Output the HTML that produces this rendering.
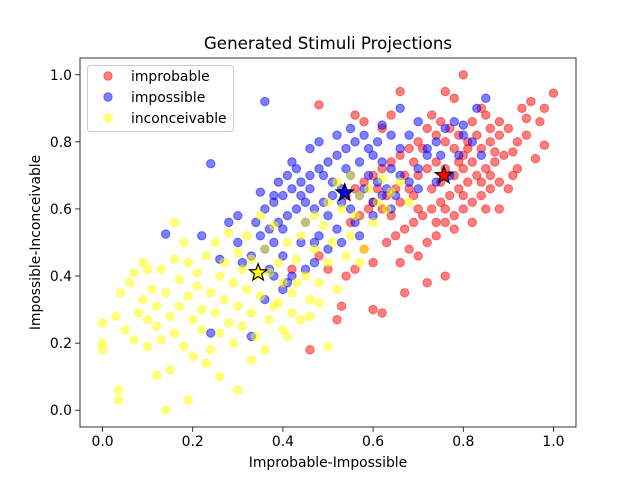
<!DOCTYPE html>
<html><head><meta charset="utf-8"><style>
body{margin:0;background:#fff;}
svg{display:block;font-family:"DejaVu Sans","Liberation Sans",sans-serif;}
</style></head><body>
<svg id="chart" width="640" height="480" viewBox="0 0 640 480">
<rect x="0" y="0" width="640" height="480" fill="#fff"/>
<text x="328" y="49" text-anchor="middle" font-size="16.7" fill="#000">Generated Stimuli Projections</text>
<g id="plot"></g>
<g id="axes"></g>
<text x="328" y="467" text-anchor="middle" font-size="13.9">Improbable-Impossible</text>
<text x="0" y="0" transform="translate(40,242.5) rotate(-90)" text-anchor="middle" font-size="13.9">Impossible-Inconceivable</text>
<g id="legend"></g>
</svg>
<script>
const xTicks=[0.0,0.2,0.4,0.6,0.8,1.0];
const yTicks=[0.0,0.2,0.4,0.6,0.8,1.0];
const seriesNames=["improbable","impossible","inconceivable"];
const seriesColors=["#ff0000","#0000ff","#ffff00"];
const redPts=[[0.80,1.00],[1.00,0.945],[0.48,0.91],[0.46,0.18],[0.76,0.40],[0.60,0.30],[0.62,0.29],[0.52,0.27],[0.53,0.31],[0.67,0.35],[0.72,0.38],[0.94,0.87],[0.93,0.90],[0.95,0.92],[0.91,0.70],[0.96,0.75],[0.98,0.79],[0.66,0.95],[0.76,0.95],[0.78,0.93],[0.84,0.90],[0.85,0.88],[0.82,0.86],[0.86,0.84],[0.88,0.82],[0.90,0.84],[0.92,0.80],[0.94,0.82],[0.89,0.76],[0.87,0.74],[0.85,0.72],[0.83,0.70],[0.81,0.68],[0.79,0.66],[0.77,0.64],[0.75,0.62],[0.73,0.60],[0.71,0.58],[0.69,0.56],[0.67,0.54],[0.65,0.52],[0.63,0.50],[0.68,0.48],[0.70,0.46],[0.72,0.50],[0.74,0.52],[0.76,0.56],[0.78,0.58],[0.80,0.60],[0.82,0.62],[0.84,0.64],[0.86,0.66],[0.88,0.68],[0.80,0.76],[0.78,0.78],[0.76,0.80],[0.74,0.82],[0.72,0.84],[0.70,0.80],[0.68,0.78],[0.66,0.76],[0.64,0.74],[0.62,0.72],[0.60,0.70],[0.58,0.68],[0.56,0.66],[0.54,0.64],[0.60,0.62],[0.62,0.60],[0.64,0.58],[0.66,0.62],[0.68,0.66],[0.70,0.70],[0.72,0.72],[0.74,0.74],[0.76,0.72],[0.78,0.70],[0.80,0.72],[0.82,0.74],[0.84,0.78],[0.86,0.80],[0.88,0.86],[0.83,0.82],[0.81,0.80],[0.79,0.82],[0.77,0.84],[0.75,0.86],[0.73,0.88],[0.71,0.78],[0.69,0.74],[0.67,0.70],[0.65,0.66],[0.63,0.64],[0.61,0.66],[0.59,0.60],[0.57,0.58],[0.55,0.56],[0.58,0.48],[0.60,0.44],[0.56,0.42],[0.54,0.40],[0.50,0.42],[0.48,0.46],[0.64,0.88],[0.62,0.84],[0.58,0.86],[0.56,0.88],[0.90,0.66],[0.92,0.72],[0.97,0.86],[0.98,0.90],[0.88,0.60],[0.85,0.60],[0.82,0.56],[0.78,0.54],[0.74,0.56],[0.70,0.60],[0.69,0.64],[0.73,0.66],[0.75,0.68],[0.79,0.74],[0.81,0.78],[0.86,0.70],[0.84,0.68],[0.87,0.77],[0.91,0.77],[0.66,0.44],[0.42,0.42],[0.76,0.60],[0.80,0.64]];
const bluePts=[[0.36,0.92],[0.24,0.735],[0.14,0.525],[0.24,0.23],[0.33,0.22],[0.36,0.33],[0.85,0.93],[0.83,0.90],[0.80,0.85],[0.66,0.90],[0.62,0.85],[0.40,0.36],[0.42,0.40],[0.22,0.52],[0.30,0.50],[0.34,0.56],[0.36,0.60],[0.38,0.62],[0.40,0.64],[0.42,0.66],[0.44,0.68],[0.46,0.70],[0.48,0.72],[0.50,0.74],[0.52,0.76],[0.54,0.78],[0.56,0.80],[0.58,0.82],[0.60,0.76],[0.62,0.74],[0.64,0.72],[0.66,0.70],[0.68,0.68],[0.70,0.72],[0.72,0.76],[0.74,0.80],[0.76,0.84],[0.78,0.86],[0.80,0.82],[0.82,0.80],[0.84,0.76],[0.79,0.76],[0.70,0.66],[0.65,0.64],[0.60,0.62],[0.55,0.60],[0.50,0.58],[0.45,0.56],[0.40,0.54],[0.38,0.50],[0.36,0.48],[0.40,0.46],[0.44,0.50],[0.48,0.52],[0.52,0.54],[0.56,0.56],[0.60,0.58],[0.64,0.60],[0.53,0.66],[0.51,0.64],[0.49,0.62],[0.47,0.60],[0.45,0.62],[0.43,0.60],[0.41,0.58],[0.39,0.56],[0.37,0.54],[0.35,0.52],[0.33,0.46],[0.31,0.44],[0.38,0.40],[0.41,0.38],[0.37,0.42],[0.45,0.42],[0.47,0.44],[0.50,0.48],[0.46,0.78],[0.48,0.80],[0.52,0.82],[0.55,0.84],[0.57,0.74],[0.59,0.70],[0.61,0.68],[0.63,0.66],[0.55,0.70],[0.57,0.64],[0.53,0.62],[0.51,0.68],[0.49,0.70],[0.43,0.72],[0.41,0.70],[0.39,0.68],[0.42,0.74],[0.44,0.64],[0.46,0.66],[0.58,0.66],[0.54,0.72],[0.66,0.78],[0.68,0.82],[0.70,0.86],[0.72,0.78],[0.75,0.76],[0.77,0.70],[0.74,0.68],[0.35,0.65],[0.38,0.64],[0.30,0.58],[0.28,0.56],[0.26,0.45],[0.47,0.50],[0.53,0.50],[0.57,0.52],[0.62,0.64],[0.59,0.78],[0.61,0.80],[0.64,0.82]];
const yellowPts=[[0.00,0.26],[0.00,0.20],[0.00,0.18],[0.03,0.28],[0.035,0.06],[0.035,0.03],[0.14,0.00],[0.19,0.03],[0.30,0.06],[0.12,0.105],[0.16,0.56],[0.07,0.41],[0.09,0.44],[0.50,0.19],[0.62,0.69],[0.05,0.24],[0.07,0.21],[0.08,0.29],[0.09,0.33],[0.10,0.27],[0.10,0.19],[0.11,0.36],[0.12,0.31],[0.12,0.25],[0.13,0.42],[0.13,0.21],[0.14,0.35],[0.15,0.28],[0.15,0.12],[0.16,0.45],[0.16,0.23],[0.17,0.39],[0.17,0.31],[0.18,0.50],[0.18,0.19],[0.19,0.44],[0.19,0.34],[0.20,0.27],[0.20,0.16],[0.21,0.41],[0.21,0.37],[0.22,0.30],[0.22,0.24],[0.23,0.46],[0.23,0.14],[0.24,0.35],[0.24,0.18],[0.25,0.50],[0.25,0.29],[0.26,0.40],[0.26,0.23],[0.27,0.44],[0.27,0.33],[0.28,0.53],[0.28,0.26],[0.29,0.38],[0.29,0.20],[0.30,0.47],[0.30,0.31],[0.31,0.42],[0.31,0.25],[0.32,0.36],[0.32,0.52],[0.33,0.29],[0.33,0.45],[0.34,0.40],[0.34,0.22],[0.35,0.58],[0.35,0.34],[0.36,0.48],[0.36,0.18],[0.37,0.41],[0.37,0.27],[0.38,0.55],[0.38,0.31],[0.39,0.44],[0.40,0.38],[0.40,0.24],[0.41,0.50],[0.42,0.35],[0.42,0.29],[0.43,0.45],[0.44,0.52],[0.44,0.27],[0.45,0.40],[0.46,0.33],[0.47,0.48],[0.48,0.38],[0.48,0.32],[0.49,0.55],[0.50,0.44],[0.51,0.50],[0.52,0.36],[0.53,0.60],[0.54,0.46],[0.55,0.52],[0.56,0.58],[0.57,0.64],[0.58,0.48],[0.59,0.66],[0.60,0.56],[0.61,0.62],[0.63,0.60],[0.64,0.65],[0.55,0.70],[0.52,0.68],[0.50,0.62],[0.47,0.58],[0.45,0.56],[0.43,0.38],[0.39,0.32],[0.06,0.38],[0.04,0.35],[0.10,0.42],[0.26,0.10],[0.33,0.15],[0.41,0.22],[0.46,0.28],[0.57,0.44],[0.66,0.68],[0.68,0.62]];
const meanX=[0.757,0.537,0.345];
const meanY=[0.700,0.648,0.410];

const NS="http://www.w3.org/2000/svg";
const L=80,R=576,T=58,B=427,xmin=-0.05,xmax=1.05,ymin=-0.05,ymax=1.05;
function sx(v){return L+(v-xmin)/(xmax-xmin)*(R-L);}
function sy(v){return B-(v-ymin)/(ymax-ymin)*(B-T);}
function mk(tag,attrs,parent){const e=document.createElementNS(NS,tag);for(const k in attrs)e.setAttribute(k,attrs[k]);parent.appendChild(e);return e;}
const plot=document.getElementById('plot');
const allSeries=[redPts,bluePts,yellowPts];
allSeries.forEach((pts,si)=>{
  const g=mk('g',{},plot);
  
  
  pts.forEach(p=>{
    const c=mk('circle',{cx:sx(p[0]),cy:sy(p[1]),r:4.2,fill:seriesColors[si],'fill-opacity':0.5,stroke:seriesColors[si],'stroke-opacity':0.5,'stroke-width':1},g);
    
    
  });
});
function starPath(cx,cy,ro,ri){let d='';for(let i=0;i<10;i++){const r=i%2?ri:ro;const a=-Math.PI/2+i*Math.PI/5;d+=(i?'L':'M')+(cx+r*Math.cos(a)).toFixed(2)+','+(cy+r*Math.sin(a)).toFixed(2);}return d+'Z';}
meanX.forEach((mx,i)=>{
  const s=mk('path',{d:starPath(sx(mx),sy(meanY[i]),9,3.8),fill:seriesColors[i],stroke:'#000','stroke-width':1.2},plot);
  
  
});
const axes=document.getElementById('axes');
const frame=mk('rect',{x:L,y:T,width:R-L,height:B-T,fill:'none',stroke:'#000','stroke-width':0.8},axes);


xTicks.forEach(t=>{
  const x=sx(t);
  const ln=mk('line',{x1:x,x2:x,y1:B,y2:B+4.9,stroke:'#000','stroke-width':0.8},axes);
  
  
  const tx=mk('text',{x:x,y:B+19,'text-anchor':'middle','font-size':13.9},axes);
  tx.textContent=t.toFixed(1);
  
  
});
yTicks.forEach(t=>{
  const y=sy(t);
  const ln=mk('line',{x1:L-4.9,x2:L,y1:y,y2:y,stroke:'#000','stroke-width':0.8},axes);
  
  
  const tx=mk('text',{x:L-8,y:y+5,'text-anchor':'end','font-size':13.9},axes);
  tx.textContent=t.toFixed(1);
  
  
});
const lg=document.getElementById('legend');
const box=mk('rect',{x:87.5,y:65.5,width:146,height:66,rx:3,fill:'#fff','fill-opacity':0.8,stroke:'#ccc','stroke-width':1},lg);


seriesNames.forEach((n,i)=>{
  const y=76+i*21;
  const c=mk('circle',{cx:108,cy:y,r:4.2,fill:seriesColors[i],'fill-opacity':0.5,stroke:seriesColors[i],'stroke-opacity':0.5},lg);
  
  
  const t=mk('text',{x:131,y:y+5,'font-size':13.9},lg);
  t.textContent=n;
  
  
});
</script>
</body></html>
